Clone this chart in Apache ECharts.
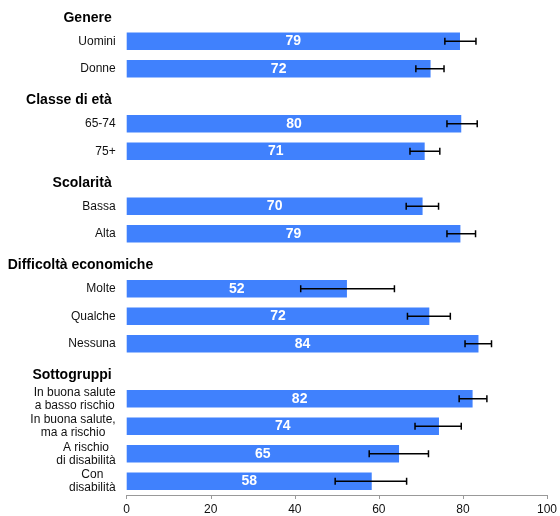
<!DOCTYPE html>
<html>
<head>
<meta charset="utf-8">
<script src="https://cdn.jsdelivr.net/npm/echarts@6/dist/echarts.min.js"></script>
<style>html,body{margin:0;padding:0;background:#fff}#c{width:560px;height:516px}</style>
</head>
<body>
<div id="c"></div>
<script>
// ---- data ----
const categories = ['Genere','Uomini','Donne','Classe di età','65-74','75+','Scolarità','Bassa','Alta','Difficoltà economiche','Molte','Qualche','Nessuna','Sottogruppi','In buona salute\na basso rischio','In buona salute,\nma a rischio','A rischio\ndi disabilità','Con\ndisabilità'];
const headers = ['Genere','Classe di età','Scolarità','Difficoltà economiche','Sottogruppi'];
const values = [null,79.3,72.3,null,79.6,70.9,null,70.4,79.4,null,52.4,72.0,83.7,null,82.3,74.3,64.8,58.3];
const lower  = [null,75.7,68.8,null,76.2,67.4,null,66.5,76.2,null,41.4,66.8,80.5,null,79.1,68.6,57.7,49.6];
const upper  = [null,83.1,75.5,null,83.4,74.5,null,74.2,83.0,null,63.7,77.0,86.8,null,85.7,79.6,71.8,66.6];
const xTicks = [0,20,40,60,80,100];

// ---- chart ----
const FONT = "'Liberation Sans', Arial, sans-serif";
const chart = echarts.init(document.getElementById('c'), null, {renderer:'canvas'});
const ctx = document.createElement('canvas').getContext('2d');
ctx.font = 'bold 14px ' + FONT;
function textW(t){ return ctx.measureText(t).width; }

const barData = values.map(v => v == null ? '-' : v);
const errData = [];
categories.forEach((c,i) => { if (lower[i] != null) errData.push([i, lower[i], upper[i]]); });

chart.setOption({
  animation: false,
  grid: {left: 126.7, right: 12.3, top: -4.4, height: 500, containLabel: false},
  xAxis: {
    type: 'value', min: xTicks[0], max: xTicks[xTicks.length-1], interval: 20,
    axisLine: {show: true, lineStyle: {color: '#999', width: 1}},
    axisTick: {show: true, length: 4, lineStyle: {color: '#999'}},
    splitLine: {show: false},
    axisLabel: {color: '#111', fontSize: 12, fontFamily: FONT, margin: 9}
  },
  yAxis: {
    type: 'category', inverse: true, data: categories,
    axisLine: {show: false}, axisTick: {show: false},
    axisLabel: {
      interval: 0, margin: 11, color: '#111', fontSize: 12, fontFamily: FONT,
      formatter: function (v) {
        if (headers.indexOf(v) >= 0) {
          return textW(v) > 104 ? '{hw|' + v + '}' : '{h|' + v + '}';
        }
        if (v.indexOf('\n') >= 0) {
          return v.split('\n').map(s => '{c|' + s + '}').join('\n');
        }
        return v;
      },
      rich: {
        h:  {fontSize: 14, fontWeight: 'bold', color: '#000', fontFamily: FONT, padding: [8, 4, 0, 0], align: 'right'},
        hw: {fontSize: 14, fontWeight: 'bold', color: '#000', fontFamily: FONT, padding: [8, 0, 0, 0], width: 108, align: 'left'},
        c:  {fontSize: 12, color: '#111', fontFamily: FONT, lineHeight: 13, align: 'center'}
      }
    }
  },
  series: [
    {
      type: 'bar', data: barData, barWidth: '64%',
      itemStyle: {color: '#4081FD'},
      label: {
        show: true, position: 'inside', color: '#fff', fontWeight: 'bold', fontSize: 14, fontFamily: FONT,
        formatter: p => Math.round(p.value)
      }
    },
    {
      type: 'custom', data: errData, encode: {y: 0, x: [1, 2]}, z: 10,
      renderItem: function (params, api) {
        const y = api.value(0);
        const a = api.coord([api.value(1), y]);
        const b = api.coord([api.value(2), y]);
        const h = 3.5;
        const st = {stroke: '#000', lineWidth: 1.5};
        return {type: 'group', children: [
          {type: 'line', shape: {x1: a[0], y1: a[1], x2: b[0], y2: b[1]}, style: st},
          {type: 'line', shape: {x1: a[0], y1: a[1]-h, x2: a[0], y2: a[1]+h}, style: st},
          {type: 'line', shape: {x1: b[0], y1: b[1]-h, x2: b[0], y2: b[1]+h}, style: st}
        ]};
      }
    }
  ]
});
</script>
</body>
</html>
